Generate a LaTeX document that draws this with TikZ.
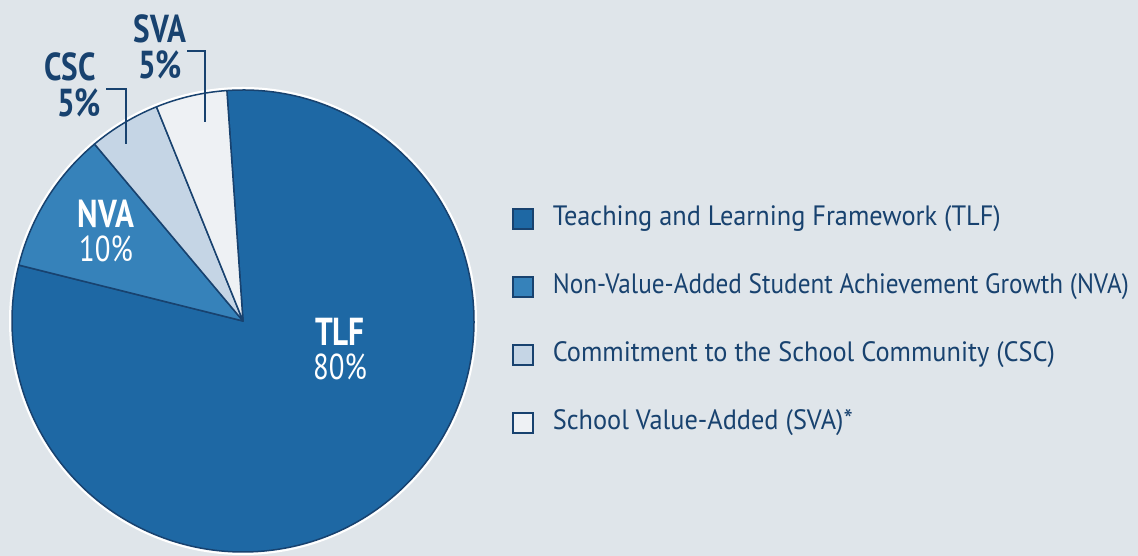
\documentclass[tikz,border=0pt]{standalone}
\usepackage{fontspec}
\setmainfont{PT Sans}[FakeStretch=0.8]
\newfontfamily\keyfont{PT Sans}[FakeStretch=0.94]
\newfontfamily\keyfontnarrow{PT Sans}[FakeStretch=0.9]
\usetikzlibrary{positioning}
\definecolor{bgcol}{HTML}{DFE5EA}
\definecolor{tlfcol}{HTML}{1E68A4}
\definecolor{nvacol}{HTML}{3682BA}
\definecolor{csccol}{HTML}{C5D5E5}
\definecolor{svacol}{HTML}{EEF1F4}
\definecolor{navy}{HTML}{18426F}

\begin{document}
\begin{tikzpicture}[x=1pt, y=1pt,
    slice/.style={draw=navy, line width=1.5pt, line join=round},
    keybox/.style={draw=navy, line width=1.2pt, minimum size=20pt, inner sep=0pt},
    keytext/.style={text=navy, font=\keyfont\fontsize{28}{30}\selectfont, inner sep=0pt, anchor=west},
    inname/.style={text=white, font=\bfseries\fontsize{39}{39}\selectfont, inner sep=0pt},
    inpct/.style={text=white, font=\fontsize{36}{36}\selectfont, inner sep=0pt},
    outlabel/.style={text=navy, font=\bfseries\fontsize{39}{39}\selectfont, inner sep=0pt},
    callout/.style={draw=navy, line width=2pt}]
	\fill[bgcol] (0,0) rectangle (1138,556);
	\useasboundingbox (0,0) rectangle (1138,556);

	% pie
	\coordinate (c) at (243,235);
	\draw[white, line width=3pt] (c) circle (232.5pt);
	\draw[slice, fill=tlfcol] (c) -- ++(94:231pt) arc (94:-194:231pt) -- cycle;
	\draw[slice, fill=nvacol] (c) -- ++(166:231pt) arc (166:130:231pt) -- cycle;
	\draw[slice, fill=csccol] (c) -- ++(130:231pt) arc (130:112:231pt) -- cycle;
	\draw[slice, fill=svacol] (c) -- ++(112:231pt) arc (112:94:231pt) -- cycle;

	\node[inname] (tlfname) at (340,224) {TLF};
	\node[inpct, below=8pt of tlfname] (tlfpct) {80\%};
	\node[inname] (nvaname) at (106,342) {NVA};
	\node[inpct, below=8pt of nvaname] (nvapct) {10\%};

	% callouts
	\node[outlabel] (svaname) at (160,527) {SVA};
	\node[outlabel, below=7pt of svaname] (svapct) {5\%};
	\node[outlabel] (cscname) at (70,489) {CSC};
	\node[outlabel, below=7pt of cscname, xshift=9pt] (cscpct) {5\%};
	\coordinate (svapt) at (205,434);
	\coordinate (cscpt) at (126,412);
	\draw[callout] (svapct.north east) ++(5pt,-1pt) -| (svapt);
	\draw[callout] (cscpct.north east) ++(5pt,-1pt) -| (cscpt);

	% legend
	\node[keybox, fill=tlfcol] (k1) at (523,337) {};
	\node[keybox, fill=nvacol] (k2) at (523,269) {};
	\node[keybox, fill=csccol] (k3) at (523,201) {};
	\node[keybox, fill=svacol] (k4) at (523,133) {};
	\node[keytext, right=19pt of k1] (t1) {Teaching and Learning Framework (TLF)};
	\node[keytext, right=19pt of k2, font=\keyfontnarrow\fontsize{28}{30}\selectfont] (t2) {Non-Value-Added Student Achievement Growth (NVA)};
	\node[keytext, right=19pt of k3] (t3) {Commitment to the School Community (CSC)};
	\node[keytext, right=19pt of k4] (t4) {School Value-Added (SVA)*};
\end{tikzpicture}
\end{document}
